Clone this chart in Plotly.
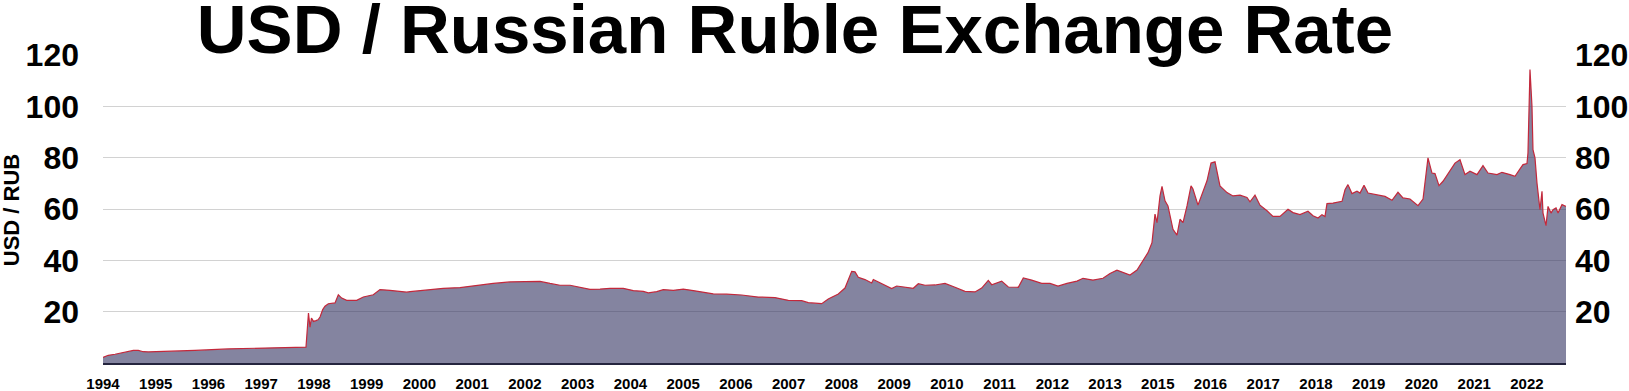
import plotly.graph_objects as go

# Position along the chart's (non-linear) time axis: one unit per tick label interval
period = [
    0.00, 0.100, 0.228, 0.355, 0.480, 0.575, 0.669, 0.764, 0.859, 1.113, 1.744, 2.376, 3.009, 3.641,
    3.849, 3.896, 3.925, 3.953, 3.991, 4.039, 4.077, 4.115, 4.166, 4.209, 4.272, 4.399, 4.462, 4.526,
    4.621, 4.810, 4.936, 5.125, 5.252, 5.442, 5.758,
    5.821, 6.200, 6.452, 6.769, 7.086, 7.400, 7.717, 8.034, 8.286, 8.476, 8.665, 8.855, 9.044, 9.234,
    9.424, 9.613, 9.865, 10.055, 10.245, 10.340, 10.499, 10.624, 10.814, 11.003, 11.193, 11.382,
    11.572, 11.826,
    12.110, 12.425, 12.742, 12.994, 13.248, 13.373, 13.627, 13.752, 13.942, 14.069, 14.132, 14.196,
    14.259, 14.321, 14.448, 14.575, 14.606, 14.700, 14.827, 14.954, 15.049, 15.207, 15.364, 15.459,
    15.586, 15.776, 15.965, 16.155, 16.344, 16.534, 16.661, 16.786, 16.851, 17.040, 17.165, 17.355,
    17.450, 17.609, 17.799,
    17.956, 18.108, 18.278, 18.468, 18.582, 18.771, 18.961, 19.094, 19.226, 19.340, 19.473, 19.606,
    19.719, 19.814, 19.890, 19.947, 19.985, 20.042, 20.080, 20.137, 20.193, 20.288, 20.364, 20.421,
    20.478, 20.554, 20.630, 20.667, 20.762, 20.857, 20.933, 21.009, 21.085, 21.179, 21.312, 21.426,
    21.559, 21.691, 21.748, 21.843, 21.938, 22.071, 22.184, 22.317, 22.469, 22.564,
    22.696, 22.848, 22.943, 23.038, 23.113, 23.170, 23.208, 23.322, 23.493, 23.550, 23.606, 23.682,
    23.777, 23.834, 23.910, 23.986, 24.156, 24.308, 24.441, 24.554, 24.649, 24.782, 24.934, 25.029,
    25.123, 25.199, 25.256, 25.332, 25.408, 25.503, 25.635, 25.730, 25.825, 25.920, 26.052, 26.166,
    26.261, 26.432, 26.526, 26.678, 26.773, 26.868, 26.925, 27.000, 27.019, 27.057, 27.095, 27.114,
    27.152, 27.190, 27.247, 27.285, 27.304, 27.361, 27.399, 27.456, 27.494, 27.551, 27.589, 27.664,
    27.740,
]

usd_rub = [
    2.2, 3.0, 3.4, 3.9, 4.5, 4.9, 4.9, 4.4, 4.3, 4.4, 4.9, 5.5, 5.8, 6.1,
    6.2, 19.5, 14.0, 17.5, 16.2, 16.5, 16.8, 17.9, 20.8, 22.1, 23.1, 23.4, 26.6, 25.3,
    24.4, 24.4, 25.7, 26.6, 28.6, 28.3, 27.6,
    27.8, 28.7, 29.1, 29.4, 30.3, 31.0, 31.6, 31.8, 31.8, 31.0, 30.3, 30.3, 29.5, 28.7,
    28.8, 29.1, 29.1, 28.2, 27.9, 27.3, 27.8, 28.6, 28.3, 28.8, 28.2, 27.5,
    26.9, 26.8,
    26.5, 25.7, 25.5, 24.4, 24.3, 23.5, 23.1, 24.9, 26.9, 29.2, 32.5, 35.7,
    35.5, 33.4, 32.5, 31.2, 32.5, 31.6, 30.3, 29.0, 30.0, 29.6, 29.1, 30.9,
    30.3, 30.4, 31.0, 29.5, 27.9, 27.7, 29.2, 32.2, 30.5, 31.9, 29.6, 29.5,
    33.1, 32.3, 31.0,
    31.0, 30.0, 31.0, 31.9, 33.0, 32.3, 33.0, 34.9, 36.2, 35.2, 34.3, 36.2,
    39.7, 43.0, 46.9, 58.0, 54.7, 65.1, 68.8, 63.2, 61.2, 52.1, 49.8, 56.0,
    54.7, 61.2, 69.0, 67.8, 61.5, 67.1, 71.0, 77.9, 78.4, 69.0, 66.4, 65.1,
    65.4, 64.5, 62.8, 65.4, 61.5, 59.3, 57.1, 57.1, 59.9, 58.6,
    57.8, 59.1, 57.4, 56.5, 57.8, 57.1, 62.1, 62.3, 63.0, 67.5, 69.5, 66.0,
    66.9, 66.2, 69.2, 66.2, 65.6, 64.9, 63.4, 66.5, 64.3, 63.9, 61.3, 63.9,
    79.9, 74.0, 73.8, 69.1, 70.8, 73.8, 77.9, 79.2, 73.4, 74.7, 73.4, 76.9,
    74.0, 73.4, 74.3, 73.4, 72.7, 75.6, 77.3, 77.7, 81.8, 114.3, 100.0, 83.1,
    79.9, 70.1, 59.7, 66.9, 58.4, 53.5, 61.0, 58.4, 59.7, 60.4, 58.4, 61.7,
    61.0,
]

year_labels = ["1994", "1995", "1996", "1997", "1998", "1999", "2000", "2001", "2002", "2003",
               "2004", "2005", "2006", "2007", "2008", "2009", "2010", "2011", "2012", "2013",
               "2015", "2016", "2017", "2018", "2019", "2020", "2021", "2022"]
y_ticks = [20, 40, 60, 80, 100, 120]

FONT = "Liberation Sans"

fig = go.Figure()
fig.add_trace(go.Scatter(
    x=period, y=usd_rub, mode="lines", fill="tozeroy",
    line=dict(color="#c3283b", width=1.2),
    fillcolor="rgba(50,50,97,0.6)", showlegend=False, hoverinfo="skip",
))
fig.add_trace(go.Scatter(
    x=period, y=usd_rub, mode="lines", yaxis="y2", opacity=0,
    line=dict(width=0), showlegend=False, hoverinfo="skip",
))

fig.update_layout(
    width=1629, height=391,
    margin=dict(l=103, r=63, t=55, b=28),
    paper_bgcolor="white", plot_bgcolor="white",
    font=dict(family=FONT, color="black"),
    title=dict(
        text="USD / Russian Ruble Exchange Rate",
        font=dict(family=FONT, size=69, weight="bold", color="black"),
        x=0.488, xref="container", xanchor="center",
        y=0.927, yref="container", yanchor="middle",
    ),
    xaxis=dict(
        range=[0, 27.74], automargin=False,
        tickvals=list(range(len(year_labels))), ticktext=year_labels,
        tickfont=dict(family=FONT, size=15, weight="bold", color="black"),
        showgrid=False, zeroline=False,
        showline=True, linecolor="#24243e", linewidth=2,
        ticks="", ticklabelstandoff=6,
    ),
    yaxis=dict(
        range=[0, 120], tickvals=y_ticks, automargin=False,
        tickfont=dict(family=FONT, size=32, weight="bold", color="black"),
        showgrid=True, gridcolor="#d2d2d2", gridwidth=1,
        zeroline=False, showline=False, ticks="", ticklabelstandoff=23,
    ),
    yaxis2=dict(
        range=[0, 120], tickvals=y_ticks, overlaying="y", side="right", automargin=False,
        tickfont=dict(family=FONT, size=32, weight="bold", color="black"),
        showgrid=False, zeroline=False, showline=False, ticks="", ticklabelstandoff=8,
    ),
    annotations=[dict(
        text="USD / RUB", textangle=-90,
        x=-0.062, y=0.497, xref="paper", yref="paper",
        xanchor="center", yanchor="middle", showarrow=False,
        font=dict(family=FONT, size=22, weight="bold", color="black"),
    )],
)

fig.write_html("out.html", config={"displayModeBar": False},
               post_script="document.body.style.margin='0';")
